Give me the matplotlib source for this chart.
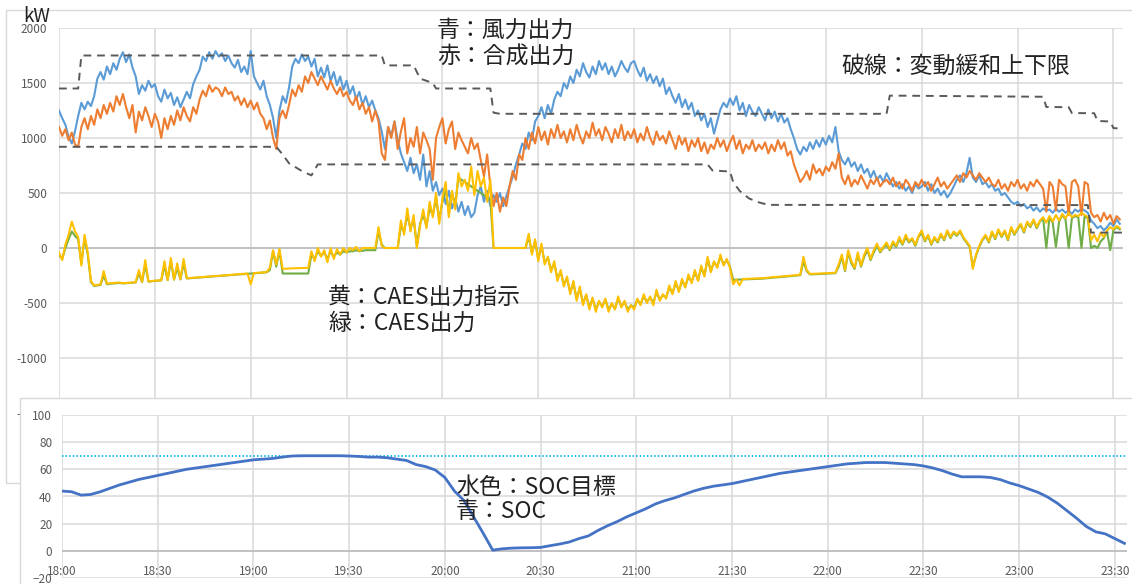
import numpy as np
import matplotlib
matplotlib.use("Agg")
import matplotlib.pyplot as plt
from matplotlib.patches import Rectangle

plt.rcParams['font.family'] = ['Noto Sans CJK JP', 'DejaVu Sans']

# ---- data (minutes after 18:00, one sample per minute) ----
wind_kw = [
    1250, 1180, 1120, 1010, 950, 1060, 1200, 1320, 1260, 1330,
    1290, 1380, 1540, 1600, 1530, 1650, 1580, 1680, 1620, 1720,
    1780, 1690, 1760, 1640, 1560, 1400, 1480, 1430, 1520, 1460,
    1490, 1380, 1330, 1440, 1360, 1410, 1300, 1370, 1280, 1350,
    1420, 1360, 1490, 1560, 1620, 1740, 1700, 1780, 1720, 1790,
    1740, 1770, 1700, 1750, 1680, 1640, 1710, 1600, 1650, 1580,
    1790, 1560, 1500, 1440, 1520, 1380, 1300, 1180, 1000, 1250,
    1380, 1320, 1460, 1650, 1720, 1680, 1760, 1700, 1740, 1650,
    1720, 1560, 1640, 1550, 1660, 1520, 1600, 1480, 1560, 1440,
    1520, 1400, 1470, 1350, 1420, 1300, 1380, 1280, 1340, 1250,
    1180, 1060, 900, 1100, 1020, 1150, 980, 860, 780, 700,
    820, 680, 760, 620, 850, 560, 700, 520, 600, 480,
    540, 400, 520, 360, 450, 330, 420, 300, 380, 280,
    320, 480, 560, 420, 520, 380, 480, 420, 500, 380,
    470, 560, 650, 760, 850, 950, 900, 1050, 980, 1150,
    1200, 1280, 1180, 1300, 1220, 1350, 1420, 1380, 1500, 1450,
    1560, 1500, 1620, 1560, 1680, 1600, 1550, 1650, 1580, 1700,
    1620, 1680, 1580, 1650, 1560, 1620, 1700, 1640, 1600, 1680,
    1700, 1620, 1560, 1640, 1520, 1580, 1500, 1560, 1470, 1540,
    1400, 1460, 1380, 1320, 1400, 1280, 1350, 1260, 1320, 1200,
    1250, 1160, 1220, 1100, 1180, 1040, 1150, 1260, 1320, 1280,
    1360, 1300, 1380, 1250, 1320, 1200, 1300, 1240, 1200, 1280,
    1220, 1160, 1260, 1180, 1240, 1150, 1220, 1140, 1180, 1080,
    1000, 900, 850, 920, 880, 960, 900, 980, 920, 1000,
    940, 1020, 960, 1100, 880, 800, 760, 820, 740, 780,
    700, 760, 680, 720, 640, 700, 620, 660, 600, 680,
    620, 560, 600, 540, 580, 520, 560, 500, 580, 540,
    560, 600, 520, 580, 500, 540, 480, 520, 460, 500,
    560, 620, 660, 600, 680, 820, 640, 600, 660, 580,
    600, 550, 580, 520, 540, 480, 500, 460, 420, 400,
    420, 380, 400, 360, 380, 340, 370, 330, 360, 340,
    350, 320, 360, 330, 350, 320, 340, 310, 350, 330,
    360, 340, 320, 250, 220, 180, 200, 160, 190, 230,
    200, 260, 220,
]

combined_kw = [
    1100, 1020, 1080, 980, 1050, 940, 920, 1100, 1180, 1080,
    1200, 1120, 1260, 1180, 1300, 1220, 1320, 1240, 1380, 1300,
    1400, 1280, 1180, 1300, 1050, 1240, 1160, 1280, 1200, 1100,
    1220, 1150, 1000, 1180, 1080, 1200, 1120, 1250, 1160, 1280,
    1200, 1150, 1280, 1220, 1350, 1430, 1380, 1480, 1420, 1460,
    1440, 1380, 1460, 1400, 1420, 1340, 1380, 1300, 1360, 1280,
    1340, 1260, 1320, 1220, 1180, 1080, 1160, 1000, 900, 1180,
    1250, 1180, 1300, 1440, 1380, 1480, 1420, 1560, 1500, 1600,
    1540, 1480, 1560, 1500, 1440, 1520, 1450, 1400, 1460, 1380,
    1420, 1340, 1300, 1380, 1260, 1320, 1220, 1280, 1150, 1250,
    1150, 860, 800, 1100, 1000, 1150, 900, 1060, 1180, 860,
    1000, 920, 1100, 860, 1050, 980, 900, 620, 1000, 1100,
    1180, 950, 1080, 1150, 900, 1050, 980, 920, 860, 1000,
    900, 950, 800, 650, 850, 560, 380, 500, 330, 460,
    380, 560, 700, 620, 850, 800, 1000, 900, 1050, 950,
    1100, 980, 1060, 940, 1080, 1000, 1120, 1000, 1060, 960,
    1080, 980, 1120, 1020, 950, 1060, 1000, 1140, 1020, 1080,
    980, 1100, 1040, 960, 1080, 1000, 1120, 980, 1060, 1000,
    1080, 960, 1040, 980, 1100, 1000, 940, 1060, 980, 1020,
    950, 1060, 980, 900, 1020, 940, 1000, 880, 980, 920,
    1000, 880, 960, 860, 940, 900, 1000, 920, 980, 880,
    960, 1020, 900, 980, 860, 940, 900, 980, 880, 940,
    900, 960, 860, 940, 880, 980, 900, 960, 840, 880,
    760, 680, 600, 640, 700, 620, 760, 680, 720, 660,
    740, 700, 780, 720, 860, 640, 580, 660, 560, 620,
    580, 660, 600, 540, 620, 580, 640, 560, 600, 620,
    580, 640, 560, 600, 540, 620, 580, 520, 600, 560,
    620, 560, 600, 520, 580, 640, 560, 600, 540, 580,
    620, 660, 600, 680, 640, 700, 660, 620, 680, 640,
    600, 640, 580, 560, 620, 540, 580, 520, 600, 560,
    620, 540, 580, 520, 600, 560, 620, 580, 540, 330,
    600, 560, 340, 620, 580, 560, 300, 600, 620, 560,
    300, 600, 580, 320, 280, 300, 240, 320, 260, 300,
    220, 290, 260,
]

caes_command_kw = [
    -40, -110, 30, 120, 240, 150, 100, -160, 120, -40,
    -300, -340, -335, -330, -210, -325, -320, -318, -316, -314,
    -320, -318, -316, -313, -311, -200, -309, -110, -304, -300,
    -297, -295, -293, -120, -290, -90, -286, -140, -284, -100,
    -275, -273, -270, -268, -266, -264, -261, -259, -257, -255,
    -252, -250, -248, -246, -243, -241, -239, -237, -234, -232,
    -330, -228, -226, -224, -221, -219, -180, -20, -150, -10,
    -190, -188, -186, -185, -184, -183, -182, -181, -180, -30,
    -120, 0, -80, -20, -130, 0, -100, -10, -60, 0,
    -40, 0, -20, 10, -30, 0, 0, 0, 0, 0,
    190, 20, 0, 0, 0, 0, 0, 250, 120, 360,
    150, 300, 0, 200, 350, 180, 420, 280, 500, 220,
    450, 600, 280, 520, 350, 680, 560, 620, 520, 740,
    480, 700, 560, 640, 420, 620, 0, 0, 0, 0,
    0, 0, 0, 0, 0, 0, 0, 130, -60, 80,
    -120, 40, -150, -80, -220, -120, -300, -200, -350, -260,
    -420, -300, -480, -350, -520, -420, -560, -450, -580, -480,
    -540, -460, -580, -500, -560, -440, -540, -480, -580, -520,
    -560, -460, -520, -420, -500, -440, -520, -380, -480, -420,
    -460, -340, -420, -300, -400, -280, -360, -240, -320, -200,
    -300, -160, -260, -80, -220, -120, -180, -60, -160, -100,
    -180, -330, -285, -340, -282, -281, -280, -279, -278, -276,
    -275, -272, -270, -267, -264, -262, -259, -257, -254, -251,
    -249, -246, -243, -80, -200, -236, -235, -233, -232, -231,
    -229, -228, -226, -225, -150, -60, -200, -20, -120, -180,
    -40, -160, -60, 0, -100, -20, 40, -30, 10, 50,
    -10, 60, 20, 100, 40, 120, 60, 90, 30, 110,
    160, 70, 120, 40, 100, 60, 130, 80, 160, 100,
    150, 120, 160, 100, 60, 20, -190, -60, 20, 80,
    120, 60, 150, 90, 170, 110, 160, 80, 190, 130,
    180, 220, 150, 240, 200, 260, 190, 250, 280, 230,
    290, 240, 300, 250, 310, 270, 320, 280, 300, 290,
    320, 300, 280, 70, 120, 60, 140, 100, 160, 190,
    170, 200, 180,
]

caes_output_kw = [
    -60, -100, 0, 80, 150, 110, 80, -140, 90, -60,
    -310, -345, -340, -335, -250, -330, -325, -322, -320, -318,
    -322, -320, -318, -315, -313, -230, -311, -150, -306, -302,
    -299, -297, -295, -160, -292, -120, -288, -180, -286, -140,
    -277, -275, -272, -270, -268, -266, -263, -261, -259, -257,
    -254, -252, -250, -248, -245, -243, -241, -239, -236, -234,
    -232, -230, -228, -226, -223, -221, -200, -30, -170, -20,
    -232, -232, -232, -232, -232, -232, -232, -232, -232, -60,
    -100, -30, -70, -40, -100, -30, -80, -40, -60, -30,
    -40, -30, -30, -20, -30, -25, -20, -20, -20, -20,
    150, 30, 0, 0, 0, 0, 0, 200, 150, 300,
    180, 260, 20, 220, 300, 200, 360, 300, 450, 260,
    420, 540, 320, 500, 380, 640, 620, 600, 580, 560,
    540, 520, 500, 480, 460, 440, 0, 0, 0, 0,
    0, 0, 0, 0, 0, 0, 0, 100, -40, 60,
    -100, 20, -130, -90, -200, -140, -280, -220, -330, -280,
    -400, -320, -460, -370, -500, -430, -540, -460, -560, -490,
    -530, -470, -560, -510, -550, -460, -530, -490, -560, -520,
    -540, -470, -510, -440, -490, -450, -500, -400, -470, -430,
    -450, -360, -410, -320, -390, -300, -350, -260, -310, -220,
    -290, -180, -250, -100, -210, -130, -170, -80, -150, -110,
    -170, -290, -288, -287, -286, -285, -284, -283, -281, -280,
    -279, -276, -274, -271, -268, -266, -263, -261, -258, -255,
    -253, -250, -247, -120, -210, -240, -239, -237, -236, -235,
    -233, -232, -230, -229, -170, -80, -210, -40, -140, -190,
    -60, -170, -80, -20, -110, -40, 20, -40, 0, 30,
    -20, 40, 10, 80, 30, 100, 50, 80, 20, 100,
    140, 60, 110, 30, 90, 50, 120, 70, 150, 90,
    140, 110, 150, 90, 50, 10, -170, -70, 10, 70,
    110, 50, 140, 80, 160, 100, 150, 70, 180, 120,
    170, 210, 140, 230, 190, 250, 180, 240, 270, 0,
    280, 230, 10, 240, 300, 260, 0, 270, 290, 280,
    0, 290, 270, 0, 20, 0, 60, 90, 150, -20,
    160, 190, 170,
]

# smoothing limits (break points: minute, kW)
upper_t = [0, 6, 7, 101, 102, 111, 113, 117, 118, 135, 136, 138, 259, 260,
           262, 308, 309, 316, 317, 324, 325, 329, 330, 333]
upper_kw = [1450, 1450, 1750, 1750, 1660, 1660, 1540, 1500, 1450, 1450, 1230,
            1220, 1220, 1385, 1385, 1375, 1282, 1280, 1227, 1225, 1155, 1150,
            1090, 1085]
lower_t = [0, 68, 70, 72, 76, 79, 81, 203, 204.5, 210, 211, 213, 216, 219,
           222, 322, 323, 333]
lower_kw = [920, 920, 850, 770, 700, 660, 760, 760, 705, 695, 600, 520, 450,
            415, 392, 390, 140, 140]

# state of charge (%), every 3 minutes
soc_t = list(range(0, 334, 3))
soc_pct = [
    44, 43.5, 41, 41.5, 43.5, 46, 48.5, 50.5, 52.5, 54,
    55.5, 57, 58.5, 60, 61, 62, 63, 64, 65, 66,
    67, 67.5, 68, 69, 69.8, 70, 70, 70, 70, 70,
    69.8, 69.5, 69, 69, 68.5, 67.5, 66.5, 63.5, 62, 59.5,
    54, 44, 37, 25, 13, 0.5, 1.5, 2, 2.2, 2.3,
    2.5, 3.8, 5, 6.5, 9, 11, 15, 18.5, 21.5, 25,
    28, 31, 34.5, 37, 39, 41.5, 44, 46, 47.5, 48.5,
    49.5, 51, 52.5, 54, 55.5, 57, 58, 59, 60, 61,
    62, 63, 64, 64.5, 65, 65, 65, 64.5, 64, 63.5,
    62.5, 61, 59, 56.5, 54.5, 54.5, 54.5, 54, 52.5, 50,
    48, 45.5, 43, 39.5, 35, 29.5, 24, 18, 14, 12.5,
    9, 5.5,
]
soc_target_pct = 70

time_ticks = [0, 30, 60, 90, 120, 150, 180, 210, 240, 270, 300, 330]
time_labels = ["18:00", "18:30", "19:00", "19:30", "20:00", "20:30",
               "21:00", "21:30", "22:00", "22:30", "23:00", "23:30"]
kw_ticks = [-1500, -1000, -500, 0, 500, 1000, 1500, 2000]
soc_ticks = [-20, 0, 20, 40, 60, 80, 100]

minutes = np.arange(len(wind_kw))

# ---- figure ----
W, H = 1132, 584
fig = plt.figure(figsize=(W / 100, H / 100), dpi=100)


def fx(x):
    return x / W


def fy(y):
    return 1 - y / H


grid_c = "#D9D9D9"
tick_c = "#595959"
text_c = "#222222"

# upper panel frame
fig.add_artist(Rectangle((fx(6), fy(483)), fx(1140) - fx(6), fy(10) - fy(483),
                         transform=fig.transFigure, facecolor="white",
                         edgecolor=grid_c, lw=1.0, zorder=0.5))

ax = fig.add_axes([fx(59), fy(413), fx(1123) - fx(59), fy(28) - fy(413)])
ax.set_zorder(1)
ax.patch.set_alpha(0)
ax.set_xlim(0, 333)
ax.set_ylim(-1500, 2000)
ax.set_yticks(kw_ticks)
ax.set_yticklabels([str(v) for v in kw_ticks])
ax.set_xticks(time_ticks)
ax.tick_params(axis="x", labelbottom=False, length=0)
ax.tick_params(axis="y", length=0, pad=8.5, labelsize=8.5, labelcolor=tick_c)
for s in ax.spines.values():
    s.set_visible(False)
ax.grid(True, color=grid_c, lw=1.1)
ax.set_axisbelow(True)
ax.axhline(0, color="#BFBFBF", lw=1.3, zorder=1)

ax.plot(minutes, wind_kw, color="#5B9BD5", lw=1.5, zorder=2)
ax.plot(minutes, combined_kw, color="#ED7D31", lw=1.5, zorder=3)
ax.plot(minutes, caes_output_kw, color="#70AD47", lw=1.5, zorder=4)
ax.plot(minutes, caes_command_kw, color="#FFC000", lw=1.5, zorder=5)
ax.plot(upper_t, upper_kw, color="#595959", lw=1.4, dashes=(4, 3), zorder=6)
ax.plot(lower_t, lower_kw, color="#595959", lw=1.4, dashes=(4, 3), zorder=6)

# lower panel frame
fig.add_artist(Rectangle((fx(20), fy(600)), fx(1140) - fx(20), fy(398) - fy(600),
                         transform=fig.transFigure, facecolor="white",
                         edgecolor=grid_c, lw=1.0, zorder=2))

bx = fig.add_axes([fx(62), fy(578), fx(1127) - fx(62), fy(415) - fy(578)])
bx.set_zorder(3)
bx.patch.set_alpha(0)
bx.set_xlim(0, 333.8)
bx.set_ylim(-20, 100)
bx.set_yticks(soc_ticks)
bx.set_xticks(time_ticks)
bx.set_xticklabels(time_labels)
for s in bx.spines.values():
    s.set_visible(False)
bx.spines["bottom"].set_position(("data", 0))
bx.tick_params(axis="y", length=0, pad=7, labelsize=8.5, labelcolor=tick_c)
bx.tick_params(axis="x", length=0, pad=10, labelsize=8.5, labelcolor=tick_c)
bx.grid(True, color=grid_c, lw=1.1)
bx.set_axisbelow(True)
bx.axhline(0, color="#BFBFBF", lw=1.3, zorder=1)
bx.axhline(soc_target_pct, color="#00B0F0", lw=1.3, dashes=(0.8, 1.2), zorder=2)
bx.plot(soc_t, soc_pct, color="#4472C4", lw=2.0, zorder=3)

# annotations
notes = [
    ("kW", 23, 17, 13.5),
    ("青：風力出力", 437, 30, 16.5),
    ("赤：合成出力", 437, 57, 16.5),
    ("破線：変動緩和上下限", 841, 66, 16.5),
    ("黄：CAES出力指示", 328, 297, 16.5),
    ("緑：CAES出力", 328, 323, 16.5),
    ("水色：SOC目標", 456, 487, 16.5),
    ("青：SOC", 456, 512, 16.5),
]
for txt, x, y, size in notes:
    fig.text(fx(x), fy(y), txt, ha="left", va="center", fontsize=size,
             color=text_c, zorder=10)

fig.savefig("out.png", dpi=100, facecolor="white")
